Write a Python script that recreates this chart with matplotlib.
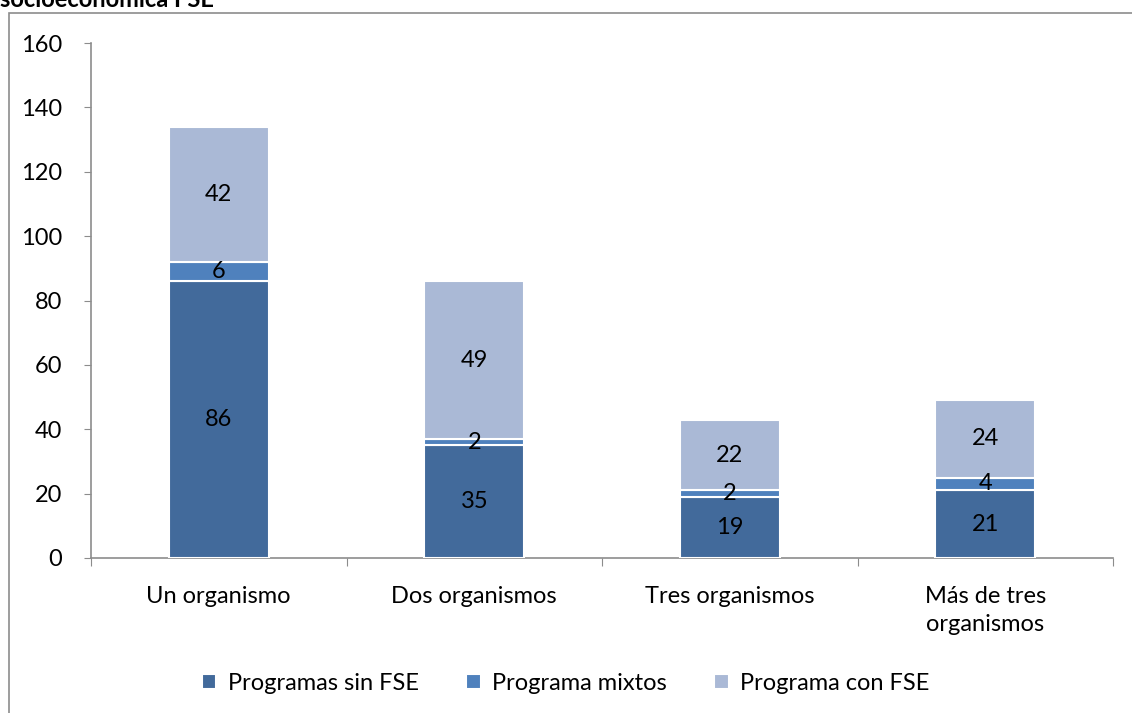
import matplotlib
matplotlib.use("Agg")
import matplotlib.pyplot as plt
from matplotlib.patches import Rectangle
import numpy as np

categories = ["Un organismo", "Dos organismos", "Tres organismos", "Más de tres\norganismos"]
sin_fse = [86, 35, 19, 21]
mixtos = [6, 2, 2, 4]
con_fse = [42, 49, 22, 24]
series_names = ["Programas sin FSE", "Programa mixtos", "Programa con FSE"]
colors = ["#426A9B", "#4F81BD", "#AAB9D6"]
yticks = [0, 20, 40, 60, 80, 100, 120, 140, 160]

plt.rcParams['font.family'] = ['Lato', 'DejaVu Sans']
FS = 17

W, H = 1132, 713
fig = plt.figure(figsize=(W/100, H/100), dpi=100)

# outer chart frame
fig.patches.append(Rectangle((9/W, -0.1), 1.2, 1 - 13/H + 0.1, transform=fig.transFigure,
                             fill=False, edgecolor="#8C8C8C", linewidth=1.2))
fig.text(0, 1 - 7/H, "socioeconómica FSE", fontsize=FS, fontweight="bold", va="baseline", ha="left")

ax = fig.add_axes([91/W, 1 - 558/H, (1113-91)/W, (558-43)/H])
x = np.arange(len(categories))
width = 0.39
series = [sin_fse, mixtos, con_fse]
bottom = np.zeros(len(categories))
for vals, col, name in zip(series, colors, series_names):
    vals = np.array(vals, dtype=float)
    ax.bar(x, vals, width, bottom=bottom, color=col, edgecolor="white", linewidth=1.5, label=name, zorder=3)
    for xi, b, v in zip(x, bottom, vals):
        ax.text(xi, b + v/2, f"{int(v)}", ha="center", va="center", fontsize=FS, zorder=4)
    bottom += vals

ax.set_xlim(-0.5, len(categories) - 0.5)
ax.set_ylim(0, 160)
ax.set_yticks(yticks)
ax.tick_params(axis="y", labelsize=FS, length=5, color="#8C8C8C", pad=16)
ax.set_xticks(np.arange(-0.5, len(categories)), minor=False)
ax.set_xticklabels([])
ax.set_xticks(x, minor=True)
ax.set_xticklabels(categories, minor=True, fontsize=FS, linespacing=1.45)
ax.tick_params(axis="x", which="major", length=6, color="#8C8C8C")
ax.tick_params(axis="x", which="minor", length=0, pad=20)
for s in ["top", "right"]:
    ax.spines[s].set_visible(False)
for s in ["left", "bottom"]:
    ax.spines[s].set_color("#8C8C8C")
    ax.spines[s].set_linewidth(1.2)

fig.legend(loc="center", bbox_to_anchor=(0.5, 1 - 683/H), ncol=3, frameon=False,
           fontsize=FS, handlelength=0.6, handleheight=0.6, columnspacing=2.0, handletextpad=0.5)

fig.savefig("out.png", dpi=100)
